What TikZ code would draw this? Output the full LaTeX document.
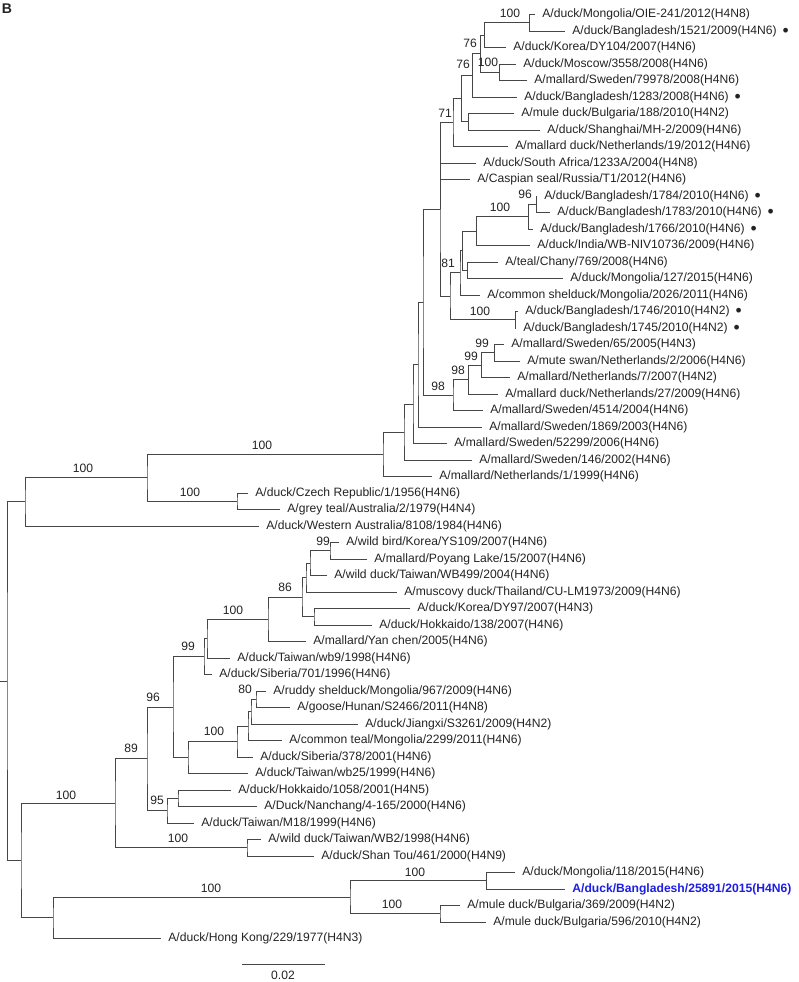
\documentclass[tikz,border=0pt]{standalone}
\usepackage{fontspec}
\setmainfont{Liberation Sans}
\usepackage{xcolor}
\usepackage{tikz}
\usetikzlibrary{calc}
\definecolor{treeGray}{RGB}{70,70,70}
\definecolor{treeText}{RGB}{35,35,35}
\definecolor{isoBlue}{RGB}{30,30,225}

\tikzset{
  branch/.style={draw=treeGray, line width=0.55pt},
  leaf/.style={anchor=west, inner xsep=4pt, inner ysep=0pt, text=treeText,
               font=\fontsize{6.9}{8}\selectfont},
  boot/.style={inner sep=0pt, text=treeText, font=\fontsize{6.9}{8}\selectfont},
}
% taxon i at tip x, rows are 16.5 px apart
\newcommand{\taxon}[3]{\node[leaf] (l#1) at (#2,{14.5+16.5*(#1-1)}) {#3};}
% internal node at x, halfway between first and last child
\newcommand{\cladenode}[4]{%
  \coordinate (#1) at ($(#3)!.5!(#4)$);
  \coordinate (#1) at (#2,0 |- #1);}
% marker after the Bangladesh isolates
\newcommand{\bdmark}{\enspace\raisebox{-1.1pt}{\fontsize{10}{8}\selectfont\textbullet}}

\begin{document}
\begin{tikzpicture}[x=0.02cm, y=-0.02cm]
\useasboundingbox (0,0) rectangle (798,982);

\node[font=\fontsize{8}{9}\selectfont\bfseries, text=treeText, inner sep=0pt] (panel) at (7,9) {B};

% taxa
\taxon{1}{535}{A/duck/Mongolia/OIE-241/2012(H4N8)}
\taxon{2}{565}{A/duck/Bangladesh/1521/2009(H4N6)\bdmark}
\taxon{3}{506}{A/duck/Korea/DY104/2007(H4N6)}
\taxon{4}{516}{A/duck/Moscow/3558/2008(H4N6)}
\taxon{5}{527}{A/mallard/Sweden/79978/2008(H4N6)}
\taxon{6}{517}{A/duck/Bangladesh/1283/2008(H4N6)\bdmark}
\taxon{7}{514}{A/mule duck/Bulgaria/188/2010(H4N2)}
\taxon{8}{540}{A/duck/Shanghai/MH-2/2009(H4N6)}
\taxon{9}{508}{A/mallard duck/Netherlands/19/2012(H4N6)}
\taxon{10}{476}{A/duck/South Africa/1233A/2004(H4N8)}
\taxon{11}{470}{A/Caspian seal/Russia/T1/2012(H4N6)}
\taxon{12}{537}{A/duck/Bangladesh/1784/2010(H4N6)\bdmark}
\taxon{13}{550}{A/duck/Bangladesh/1783/2010(H4N6)\bdmark}
\taxon{14}{533}{A/duck/Bangladesh/1766/2010(H4N6)\bdmark}
\taxon{15}{530}{A/duck/India/WB-NIV10736/2009(H4N6)}
\taxon{16}{498}{A/teal/Chany/769/2008(H4N6)}
\taxon{17}{563}{A/duck/Mongolia/127/2015(H4N6)}
\taxon{18}{480}{A/common shelduck/Mongolia/2026/2011(H4N6)}
\taxon{19}{518}{A/duck/Bangladesh/1746/2010(H4N2)\bdmark}
\taxon{20}{516}{A/duck/Bangladesh/1745/2010(H4N2)\bdmark}
\taxon{21}{504}{A/mallard/Sweden/65/2005(H4N3)}
\taxon{22}{520}{A/mute swan/Netherlands/2/2006(H4N6)}
\taxon{23}{510}{A/mallard/Netherlands/7/2007(H4N2)}
\taxon{24}{498}{A/mallard duck/Netherlands/27/2009(H4N6)}
\taxon{25}{483}{A/mallard/Sweden/4514/2004(H4N6)}
\taxon{26}{482}{A/mallard/Sweden/1869/2003(H4N6)}
\taxon{27}{447}{A/mallard/Sweden/52299/2006(H4N6)}
\taxon{28}{472}{A/mallard/Sweden/146/2002(H4N6)}
\taxon{29}{432}{A/mallard/Netherlands/1/1999(H4N6)}
\taxon{30}{248}{A/duck/Czech Republic/1/1956(H4N6)}
\taxon{31}{280}{A/grey teal/Australia/2/1979(H4N4)}
\taxon{32}{259}{A/duck/Western Australia/8108/1984(H4N6)}
\taxon{33}{339}{A/wild bird/Korea/YS109/2007(H4N6)}
\taxon{34}{367}{A/mallard/Poyang Lake/15/2007(H4N6)}
\taxon{35}{327}{A/wild duck/Taiwan/WB499/2004(H4N6)}
\taxon{36}{397}{A/muscovy duck/Thailand/CU-LM1973/2009(H4N6)}
\taxon{37}{410}{A/duck/Korea/DY97/2007(H4N3)}
\taxon{38}{372}{A/duck/Hokkaido/138/2007(H4N6)}
\taxon{39}{306}{A/mallard/Yan chen/2005(H4N6)}
\taxon{40}{230}{A/duck/Taiwan/wb9/1998(H4N6)}
\taxon{41}{212}{A/duck/Siberia/701/1996(H4N6)}
\taxon{42}{266}{A/ruddy shelduck/Mongolia/967/2009(H4N6)}
\taxon{43}{290}{A/goose/Hunan/S2466/2011(H4N8)}
\taxon{44}{358}{A/duck/Jiangxi/S3261/2009(H4N2)}
\taxon{45}{282}{A/common teal/Mongolia/2299/2011(H4N6)}
\taxon{46}{253}{A/duck/Siberia/378/2001(H4N6)}
\taxon{47}{248}{A/duck/Taiwan/wb25/1999(H4N6)}
\taxon{48}{231}{A/duck/Hokkaido/1058/2001(H4N5)}
\taxon{49}{257}{A/Duck/Nanchang/4-165/2000(H4N6)}
\taxon{50}{194}{A/duck/Taiwan/M18/1999(H4N6)}
\taxon{51}{261}{A/wild duck/Taiwan/WB2/1998(H4N6)}
\taxon{52}{314}{A/duck/Shan Tou/461/2000(H4N9)}
\taxon{53}{515}{A/duck/Mongolia/118/2015(H4N6)}
\taxon{54}{565}{\textcolor{isoBlue}{\bfseries A/duck/Bangladesh/25891/2015(H4N6)}}
\taxon{55}{460}{A/mule duck/Bulgaria/369/2009(H4N2)}
\taxon{56}{486}{A/mule duck/Bulgaria/596/2010(H4N2)}
\taxon{57}{161}{A/duck/Hong Kong/229/1977(H4N3)}

% internal nodes
\cladenode{n1}{529}{l1}{l2}
\cladenode{n2}{484}{n1}{l3}
\cladenode{n3}{499}{l4}{l5}
\cladenode{n4}{480}{n2}{n3}
\cladenode{n5}{472}{n4}{l6}
\cladenode{n6}{468}{l7}{l8}
\cladenode{n7}{461}{n5}{n6}
\cladenode{n8}{453}{n7}{l9}
\cladenode{n9}{536}{l12}{l13}
\cladenode{n10}{528}{n9}{l14}
\cladenode{n11}{476}{n10}{l15}
\cladenode{n12}{467}{l16}{l17}
\cladenode{n13}{462}{n11}{n12}
\cladenode{n14}{460}{n13}{l18}
\cladenode{n15}{515}{l19}{l20}
\cladenode{n16}{450}{n14}{n15}
\cladenode{n17}{440}{n8}{n16}
\cladenode{n18}{494}{l21}{l22}
\cladenode{n19}{481}{n18}{l23}
\cladenode{n20}{468}{n19}{l24}
\cladenode{n21}{453}{n20}{l25}
\cladenode{n22}{423}{n17}{n21}
\cladenode{n23}{418}{n22}{l26}
\cladenode{n24}{413}{n23}{l27}
\cladenode{n25}{404}{n24}{l28}
\cladenode{n26}{383}{n25}{l29}
\cladenode{n27}{237}{l30}{l31}
\cladenode{n28}{147}{n26}{n27}
\cladenode{n29}{25}{n28}{l32}
\cladenode{n30}{330}{l33}{l34}
\cladenode{n31}{310}{n30}{l35}
\cladenode{n32}{306}{n31}{l36}
\cladenode{n33}{314}{l37}{l38}
\cladenode{n34}{302}{n32}{n33}
\cladenode{n35}{268}{n34}{l39}
\cladenode{n36}{207}{n35}{l40}
\cladenode{n37}{204}{n36}{l41}
\cladenode{n38}{256}{l42}{l43}
\cladenode{n39}{251}{n38}{l44}
\cladenode{n40}{248}{n39}{l45}
\cladenode{n41}{237}{n40}{l46}
\cladenode{n42}{188}{n41}{l47}
\cladenode{n43}{173}{n37}{n42}
\cladenode{n44}{178}{l48}{l49}
\cladenode{n45}{167}{n44}{l50}
\cladenode{n46}{147}{n43}{n45}
\cladenode{n47}{247}{l51}{l52}
\cladenode{n48}{115}{n46}{n47}
\cladenode{n49}{486}{l53}{l54}
\cladenode{n50}{440}{l55}{l56}
\cladenode{n51}{350}{n49}{n50}
\cladenode{n52}{53}{n51}{l57}
\cladenode{n53}{21}{n48}{n52}
\cladenode{root}{7}{n29}{n53}
\coordinate (stub) at (0,0 |- root);

% branches
\draw[branch] (l1.west) -| (n1) |- (l2.west)  (n1) -| (n2) |- (l3.west)
  (l4.west) -| (n3) |- (l5.west)  (n2) -| (n4) |- (n3)  (n4) -| (n5) |- (l6.west)
  (l7.west) -| (n6) |- (l8.west)  (n5) -| (n7) |- (n6)  (n7) -| (n8) |- (l9.west);
\draw[branch] (l12.west) -| (n9) |- (l13.west)  (n9) -| (n10) |- (l14.west)
  (n10) -| (n11) |- (l15.west)  (l16.west) -| (n12) |- (l17.west)
  (n11) -| (n13) |- (n12)  (n13) -| (n14) |- (l18.west)
  (l19.west) -| (n15) |- (l20.west)  (n14) -| (n16) |- (n15);
\draw[branch] (n8) -| (n17) |- (n16)  (n17) |- (l10.west)  (n17) |- (l11.west);
\draw[branch] (l21.west) -| (n18) |- (l22.west)  (n18) -| (n19) |- (l23.west)
  (n19) -| (n20) |- (l24.west)  (n20) -| (n21) |- (l25.west)
  (n17) -| (n22) |- (n21)  (n22) -| (n23) |- (l26.west)  (n23) -| (n24) |- (l27.west)
  (n24) -| (n25) |- (l28.west)  (n25) -| (n26) |- (l29.west);
\draw[branch] (l30.west) -| (n27) |- (l31.west)  (n26) -| (n28) |- (n27)
  (n28) -| (n29) |- (l32.west);
\draw[branch] (l33.west) -| (n30) |- (l34.west)  (n30) -| (n31) |- (l35.west)
  (n31) -| (n32) |- (l36.west)  (l37.west) -| (n33) |- (l38.west)
  (n32) -| (n34) |- (n33)  (n34) -| (n35) |- (l39.west)
  (n35) -| (n36) |- (l40.west)  (n36) -| (n37) |- (l41.west);
\draw[branch] (l42.west) -| (n38) |- (l43.west)  (n38) -| (n39) |- (l44.west)
  (n39) -| (n40) |- (l45.west)  (n40) -| (n41) |- (l46.west)
  (n41) -| (n42) |- (l47.west)  (n37) -| (n43) |- (n42);
\draw[branch] (l48.west) -| (n44) |- (l49.west)  (n44) -| (n45) |- (l50.west)
  (n43) -| (n46) |- (n45)  (l51.west) -| (n47) |- (l52.west)  (n46) -| (n48) |- (n47);
\draw[branch] (l53.west) -| (n49) |- (l54.west)  (l55.west) -| (n50) |- (l56.west)
  (n49) -| (n51) |- (n50)  (n51) -| (n52) |- (l57.west)  (n48) -| (n53) |- (n52);
\draw[branch] (n29) -| (root) |- (n53)  (stub) -- (root);

% bootstrap values
\foreach \bx/\by/\bv [count=\i] in {510/13/100, 488/62/100, 470/43/76, 463/64/76,
    445/113/71, 525/194/96, 500/207/100, 448/263/81, 480/311/100, 482/343/99,
    471/356/99, 458/370/98, 438/386/98, 262/445/100, 190/492/100, 83/468/100,
    323/541/99, 285/587/86, 233/610/100, 188/646/99, 245/689/80, 214/731/100,
    153/697/96, 157/800/95, 131/748/89, 178/838/100, 66/795/100, 415/872/100,
    392/904/100, 211/888/100}
  \node[boot] (b\i) at (\bx,\by) {\bv};

% scale bar
\coordinate (sbL) at (242,964);
\coordinate (sbR) at (325,964);
\draw[branch] (sbL) -- (sbR);
\node[boot] (sbText) at (283,975) {0.02};
\end{tikzpicture}
\end{document}
